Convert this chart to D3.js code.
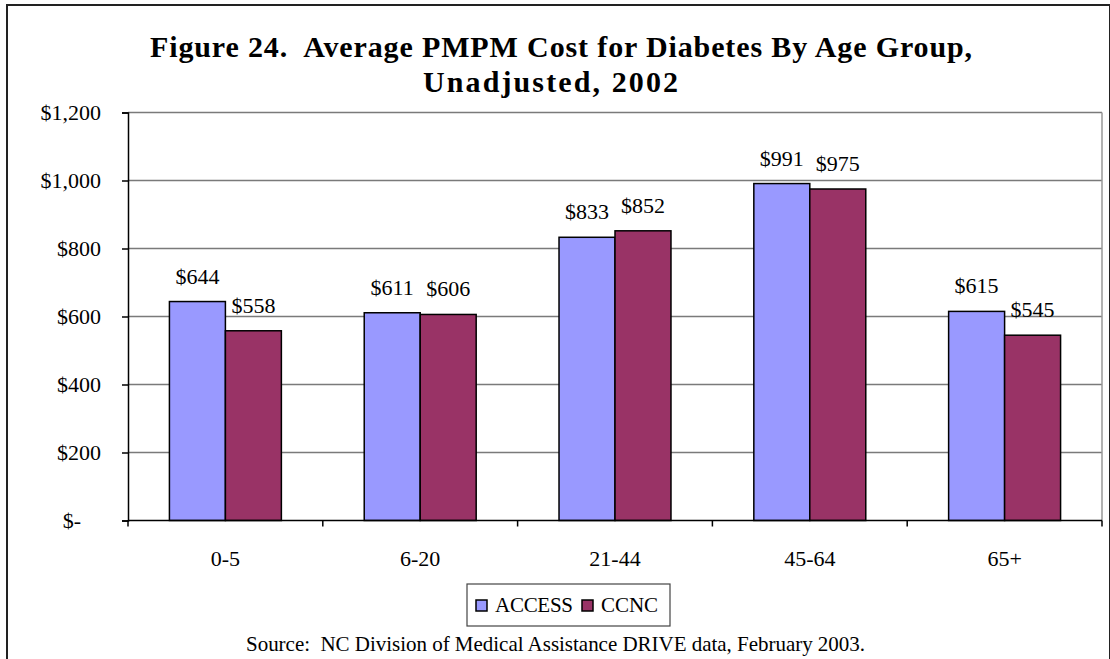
<!DOCTYPE html>
<html><head><meta charset="utf-8">
<script src="https://cdn.jsdelivr.net/npm/d3@7"></script>
<style>body{margin:0;background:#fff}svg{display:block}text{font-family:"Liberation Serif","Times New Roman",serif;white-space:pre}</style>
</head><body>
<svg id="c" width="1110" height="659"></svg>
<script>
const categories = ["0-5","6-20","21-44","45-64","65+"];
const seriesNames = ["ACCESS","CCNC"];
const accessValues = [644,611,833,991,615];
const ccncValues = [558,606,852,975,545];
const yTicks = [0,200,400,600,800,1000,1200];
const colors = ["#9999FF","#993366"];
const FF = '"Liberation Serif","Times New Roman",serif';

const svg = d3.select("#c");
const W=1110,H=659;
svg.append("rect").attr("x",7).attr("y",5).attr("width",W-7).attr("height",H).attr("fill","#fff").attr("stroke","#222").attr("stroke-width",2);

const L=128,R=1102,T=112.5,B=520.5;
const x = d3.scaleBand().domain(categories).range([L,R]).paddingInner(0).paddingOuter(0);
const x1 = d3.scaleBand().domain(seriesNames).range([0,x.bandwidth()]).paddingInner(0).paddingOuter(0.74);
const y = d3.scaleLinear().domain([0,1200]).range([B,T]);

svg.append("g").selectAll("line").data(yTicks.filter(d=>d>0)).join("line")
  .attr("x1",L).attr("x2",R).attr("y1",d=>y(d)).attr("y2",d=>y(d))
  .attr("stroke","#7a7a7a").attr("stroke-width",1.5);
svg.append("line").attr("x1",R).attr("x2",R).attr("y1",T).attr("y2",B).attr("stroke","#999").attr("stroke-width",1.5);

const data = categories.map((c,i)=>({c, vals:[accessValues[i],ccncValues[i]]}));
const g = svg.append("g");
data.forEach(d=>{
  d.vals.forEach((v,j)=>{
    const bx = x(d.c)+x1(seriesNames[j]);
    g.append("rect").attr("x",bx).attr("y",y(v)).attr("width",x1.bandwidth()).attr("height",B-y(v))
      .attr("fill",colors[j]).attr("stroke","#000").attr("stroke-width",1.5);
  });
});
data.forEach(d=>{
  d.vals.forEach((v,j)=>{
    const bx = x(d.c)+x1(seriesNames[j]);
    g.append("text").attr("x",bx+x1.bandwidth()/2).attr("y",y(v)-18).attr("text-anchor","middle")
      .attr("font-family",FF).attr("font-size",22).attr("fill","#000").text("$"+v);
  });
});

const yAxis = d3.axisLeft(y).tickValues(yTicks).tickSize(6).tickPadding(21)
  .tickFormat(d=> d===0 ? "$-" : d3.format("$,")(d));
const ya = svg.append("g").attr("transform",`translate(${L},0)`).call(yAxis);
ya.select(".domain").attr("stroke","#000").attr("stroke-width",1.5);
ya.selectAll(".tick line").attr("stroke","#000").attr("stroke-width",1.5);
ya.selectAll("text").attr("font-size",22).attr("fill","#000").attr("font-family",FF);
ya.selectAll(".tick").filter(d=>d===0).select("text").attr("dx",-20);

const xa = svg.append("g").attr("transform",`translate(0,${B})`);
xa.append("line").attr("x1",L).attr("x2",R).attr("y1",0).attr("y2",0).attr("stroke","#000").attr("stroke-width",1.5);
const bounds = categories.map(c=>x(c)).concat([R]);
xa.selectAll("line.tk").data(bounds).join("line").attr("class","tk")
  .attr("x1",d=>d).attr("x2",d=>d).attr("y1",0).attr("y2",6).attr("stroke","#000").attr("stroke-width",1.5);
xa.selectAll("text").data(categories).join("text")
  .attr("x",d=>x(d)+x.bandwidth()/2).attr("y",45).attr("text-anchor","middle")
  .attr("font-family",FF).attr("font-size",22).attr("fill","#000").text(d=>d);

const title = svg.append("g").attr("font-weight","bold").attr("font-size",30).attr("fill","#000").attr("font-family",FF);
title.append("text").attr("x",150).attr("y",57).attr("textLength",822).attr("lengthAdjust","spacing")
  .text("Figure 24.  Average PMPM Cost for Diabetes By Age Group,");
title.append("text").attr("x",423).attr("y",92).attr("textLength",255).attr("lengthAdjust","spacing")
  .text("Unadjusted, 2002");

const lg = svg.append("g");
lg.append("rect").attr("x",467).attr("y",584).attr("width",203).attr("height",42).attr("fill","#fff").attr("stroke","#444").attr("stroke-width",1.2);
const items = [{n:"ACCESS",x:476,w:78},{n:"CCNC",x:582,w:57}];
items.forEach((it,i)=>{
  lg.append("rect").attr("x",it.x).attr("y",600).attr("width",11).attr("height",11).attr("fill",colors[i]).attr("stroke","#000").attr("stroke-width",1.5);
  lg.append("text").attr("x",it.x+19).attr("y",612).attr("font-family",FF).attr("font-size",21)
    .attr("textLength",it.w).attr("lengthAdjust","spacing").attr("fill","#000").text(it.n);
});

svg.append("text").attr("x",246).attr("y",651).attr("font-family",FF).attr("font-size",21).attr("fill","#000")
  .attr("textLength",619).attr("lengthAdjust","spacing")
  .text("Source:  NC Division of Medical Assistance DRIVE data, February 2003.");
</script>
</body></html>
